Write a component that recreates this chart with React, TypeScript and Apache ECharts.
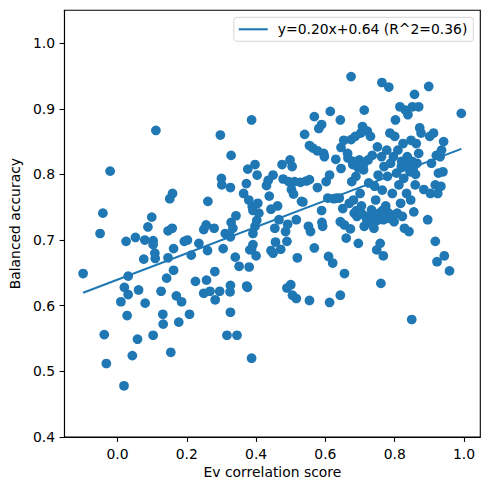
import React, { useEffect, useRef } from "react";
import * as echarts from "echarts";

const evScores: number[] = [
  -0.099, -0.05, -0.042, -0.021, -0.038, -0.032, 0.019, 0.01, 0.025, 0.031, 0.02, 0.031, 0.028, 0.043, 0.052, 0.061,
  0.058, 0.079, 0.076, 0.08, 0.088, 0.099, 0.103, 0.103, 0.108, 0.109, 0.103, 0.111, 0.126, 0.131, 0.132, 0.142,
  0.146, 0.146, 0.158, 0.151, 0.159, 0.162, 0.162, 0.154, 0.17, 0.185, 0.177, 0.193, 0.202, 0.213, 0.208, 0.225,
  0.235, 0.249, 0.256, 0.261, 0.26, 0.257, 0.249, 0.267, 0.279, 0.282, 0.281, 0.297, 0.3, 0.301, 0.295, 0.305,
  0.311, 0.316, 0.326, 0.325, 0.326, 0.328, 0.326, 0.328, 0.326, 0.333, 0.342, 0.34, 0.345, 0.351, 0.373, 0.375,
  0.364, 0.372, 0.376, 0.38, 0.382, 0.379, 0.387, 0.387, 0.389, 0.391, 0.391, 0.391, 0.387, 0.397, 0.403, 0.405,
  0.4, 0.402, 0.408, 0.397, 0.43, 0.435, 0.438, 0.449, 0.443, 0.443, 0.449, 0.454, 0.456, 0.462, 0.466, 0.471,
  0.475, 0.478, 0.485, 0.489, 0.491, 0.494, 0.498, 0.504, 0.502, 0.508, 0.511, 0.516, 0.489, 0.5, 0.505, 0.516,
  0.519, 0.528, 0.531, 0.54, 0.535, 0.545, 0.554, 0.551, 0.557, 0.554, 0.564, 0.568, 0.568, 0.554, 0.577, 0.577,
  0.581, 0.589, 0.589, 0.59, 0.592, 0.595, 0.597, 0.602, 0.609, 0.612, 0.614, 0.612, 0.607, 0.621, 0.624, 0.632,
  0.63, 0.643, 0.643, 0.645, 0.645, 0.64, 0.643, 0.65, 0.653, 0.655, 0.655, 0.66, 0.664, 0.669, 0.672, 0.674,
  0.674, 0.676, 0.679, 0.681, 0.683, 0.686, 0.688, 0.691, 0.695, 0.698, 0.7, 0.702, 0.704, 0.707, 0.71, 0.712,
  0.712, 0.716, 0.721, 0.723, 0.725, 0.73, 0.733, 0.735, 0.738, 0.74, 0.742, 0.745, 0.748, 0.75, 0.752, 0.755,
  0.758, 0.76, 0.762, 0.763, 0.764, 0.767, 0.767, 0.769, 0.774, 0.777, 0.779, 0.781, 0.783, 0.786, 0.788, 0.793,
  0.796, 0.798, 0.8, 0.802, 0.805, 0.807, 0.809, 0.812, 0.815, 0.817, 0.819, 0.822, 0.824, 0.826, 0.828, 0.831,
  0.834, 0.836, 0.838, 0.841, 0.844, 0.846, 0.847, 0.849, 0.851, 0.853, 0.855, 0.857, 0.859, 0.862, 0.864, 0.869,
  0.869, 0.872, 0.876, 0.884, 0.895, 0.898, 0.901, 0.903, 0.906, 0.912, 0.917, 0.917, 0.92, 0.922, 0.924, 0.926,
  0.931, 0.933, 0.935, 0.939, 0.941, 0.943, 0.958, 0.992,
  0.69, 0.705, 0.72, 0.735, 0.75, 0.765, 0.78, 0.795, 0.665, 0.68, 0.695, 0.71, 0.82, 0.835, 0.85, 0.86,
];

const accuracies: number[] = [
  0.649, 0.71, 0.741, 0.805, 0.556, 0.512, 0.478, 0.606, 0.698, 0.645, 0.628, 0.617, 0.585, 0.524, 0.704, 0.624,
  0.549, 0.7, 0.671, 0.604, 0.72, 0.735, 0.699, 0.693, 0.68, 0.672, 0.555, 0.867, 0.622, 0.587, 0.572, 0.642,
  0.673, 0.714, 0.718, 0.763, 0.771, 0.687, 0.654, 0.529, 0.615, 0.606, 0.575, 0.698, 0.7, 0.677, 0.587, 0.637,
  0.695, 0.716, 0.723, 0.759, 0.684, 0.639, 0.619, 0.622, 0.718, 0.609, 0.652, 0.86, 0.794, 0.784, 0.622, 0.687,
  0.71, 0.555, 0.631, 0.621, 0.59, 0.829, 0.78, 0.727, 0.705, 0.718, 0.737, 0.674, 0.555, 0.66, 0.63, 0.628,
  0.771, 0.786, 0.808, 0.659, 0.685, 0.761, 0.883, 0.52, 0.751, 0.745, 0.71, 0.693, 0.686, 0.815, 0.799, 0.756,
  0.676, 0.73, 0.741, 0.721, 0.783, 0.791, 0.767, 0.799, 0.747, 0.684, 0.68, 0.718, 0.697, 0.752, 0.731, 0.686,
  0.815, 0.793, 0.713, 0.698, 0.724, 0.789, 0.822, 0.812, 0.777, 0.77, 0.789, 0.731, 0.627, 0.632, 0.616, 0.611,
  0.673, 0.788, 0.759, 0.861, 0.758, 0.79, 0.792, 0.721, 0.713, 0.844, 0.84, 0.888, 0.688, 0.608, 0.836, 0.78,
  0.87, 0.876, 0.745, 0.727, 0.721, 0.832, 0.827, 0.789, 0.675, 0.605, 0.896, 0.799, 0.764, 0.665, 0.763, 0.764,
  0.823, 0.883, 0.616, 0.809, 0.841, 0.764, 0.728, 0.748, 0.852, 0.723, 0.649, 0.703, 0.832, 0.756, 0.717, 0.949,
  0.853, 0.789, 0.815, 0.761, 0.741, 0.858, 0.797, 0.736, 0.695, 0.822, 0.771, 0.863, 0.752, 0.873, 0.807, 0.898,
  0.721, 0.736, 0.866, 0.822, 0.787, 0.858, 0.746, 0.829, 0.736, 0.718, 0.782, 0.761, 0.685, 0.842, 0.799, 0.741,
  0.695, 0.634, 0.827, 0.94, 0.776, 0.731, 0.676, 0.812, 0.752, 0.837, 0.797, 0.733, 0.933, 0.863, 0.817, 0.771,
  0.827, 0.728, 0.858, 0.883, 0.802, 0.741, 0.837, 0.784, 0.903, 0.756, 0.812, 0.736, 0.847, 0.794, 0.718, 0.898,
  0.771, 0.827, 0.891, 0.713, 0.804, 0.761, 0.852, 0.579, 0.903, 0.809, 0.743, 0.922, 0.784, 0.847, 0.817, 0.903,
  0.832, 0.871, 0.863, 0.777, 0.731, 0.934, 0.858, 0.771, 0.817, 0.863, 0.784, 0.698, 0.829, 0.667, 0.771, 0.802,
  0.827, 0.782, 0.837, 0.804, 0.85, 0.676, 0.653, 0.893,
  0.745, 0.74, 0.73, 0.725, 0.73, 0.745, 0.742, 0.738, 0.825, 0.82, 0.81, 0.815, 0.82, 0.815, 0.82, 0.8,
];

const fitSlope = 0.201;
const fitIntercept = 0.6395;
const fitLabel = "y=0.20x+0.64 (R^2=0.36)";
const xTicks = [0.0, 0.2, 0.4, 0.6, 0.8, 1.0];
const yTicks = [0.4, 0.5, 0.6, 0.7, 0.8, 0.9, 1.0];

const BLUE = "#1f77b4";
const FONT = "DejaVu Sans";
const FS = 13.9;

export default function App() {
  const ref = useRef<HTMLDivElement>(null);
  useEffect(() => {
    document.body.style.margin = "0";
    if (!ref.current) return;
    const chart = echarts.init(ref.current, undefined, { renderer: "svg" });
    const points = evScores.map((x, i) => [x, accuracies[i]]);
    const xMin = Math.min(...evScores);
    const xMax = Math.max(...evScores);
    const fitLine = [
      [xMin, fitSlope * xMin + fitIntercept],
      [xMax, fitSlope * xMax + fitIntercept],
    ];
    const axisCommon = {
      axisLine: { show: true, onZero: false, lineStyle: { color: "#000", width: 1.1 } },
      axisTick: { show: true, inside: false, length: 4.9, lineStyle: { color: "#000", width: 1.1 } },
      splitLine: { show: false },
      nameLocation: "middle" as const,
      nameTextStyle: { color: "#000", fontFamily: FONT, fontSize: FS },
    };
    chart.setOption({
      animation: false,
      backgroundColor: "#fff",
      grid: {
        left: 61.3,
        right: 9.7,
        top: 10.3,
        bottom: 53,
        show: true,
        borderColor: "#000",
        borderWidth: 1.1,
        backgroundColor: "transparent",
      },
      legend: {
        show: true,
        data: [{ name: fitLabel, icon: "rect" }],
        right: 16.7,
        top: 17.3,
        orient: "horizontal",
        itemWidth: 29,
        itemHeight: 2.1,
        padding: [5, 6, 5, 5],
        backgroundColor: "rgba(255,255,255,0.8)",
        borderColor: "#d6d6d6",
        borderWidth: 1,
        borderRadius: 3,
        textStyle: { color: "#000", fontFamily: FONT, fontSize: FS, padding: [0, 0, 0, 5] },
      },
      xAxis: {
        type: "value",
        min: -0.1527,
        max: 1.0468,
        name: "Ev correlation score",
        nameGap: 28,
        ...axisCommon,
        axisTick: { ...axisCommon.axisTick, customValues: xTicks },
        axisLabel: {
          customValues: xTicks,
          formatter: (v: number) => v.toFixed(1),
          color: "#000",
          fontFamily: FONT,
          fontSize: FS,
          margin: 9.5,
        },
      },
      yAxis: {
        type: "value",
        min: 0.4,
        max: 1.05,
        name: "Balanced accuracy",
        nameGap: 40,
        ...axisCommon,
        axisTick: { ...axisCommon.axisTick, customValues: yTicks },
        axisLabel: {
          customValues: yTicks,
          formatter: (v: number) => v.toFixed(1),
          color: "#000",
          fontFamily: FONT,
          fontSize: FS,
          margin: 9.5,
        },
      },
      series: [
        {
          type: "scatter",
          name: "points",
          data: points,
          symbol: "circle",
          symbolSize: 9.7,
          itemStyle: { color: BLUE, opacity: 1 },
          z: 2,
        },
        {
          type: "line",
          name: fitLabel,
          data: fitLine,
          symbol: "none",
          showSymbol: false,
          lineStyle: { color: BLUE, width: 2.1 },
          itemStyle: { color: BLUE },
          z: 3,
        },
      ],
    });
    return () => chart.dispose();
  }, []);
  return <div ref={ref} style={{ width: 490, height: 490 }} />;
}
